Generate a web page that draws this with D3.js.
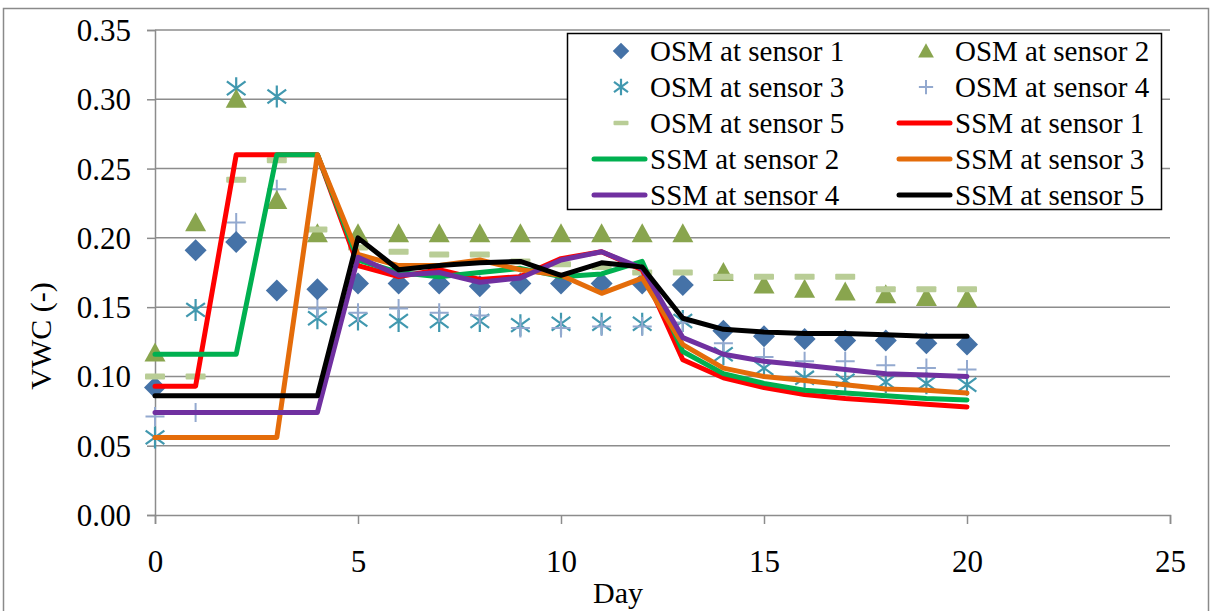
<!DOCTYPE html>
<html>
<head>
<meta charset="utf-8">
<script src="https://cdn.jsdelivr.net/npm/d3@7"></script>
<style>
  html, body { margin: 0; padding: 0; background: #fff; }
  svg { display: block; }
</style>
</head>
<body>
<svg id="chart" width="1214" height="611"></svg>
<script>
// Days of the experiment
const days = [0,1,2,3,4,5,6,7,8,9,10,11,12,13,14,15,16,17,18,19,20];

// Observed soil moisture (OSM), volumetric water content
const osm1 = [0.092,0.191,0.197,0.162,0.163,0.167,0.167,0.167,0.165,0.167,0.167,0.167,0.167,0.166,0.133,0.129,0.127,0.126,0.126,0.124,0.123];
const osm2 = [0.117,0.211,0.300,0.227,0.203,0.203,0.203,0.203,0.203,0.203,0.203,0.203,0.203,0.203,0.175,0.166,0.163,0.161,0.159,0.157,0.156];
const osm3 = [0.056,0.148,0.308,0.302,0.142,0.141,0.140,0.140,0.140,0.137,0.138,0.138,0.138,0.140,0.116,0.106,0.099,0.097,0.096,0.095,0.094];
const osm4 = [0.071,0.074,0.211,0.235,0.149,0.146,0.149,0.146,0.144,0.135,0.135,0.136,0.136,0.139,0.124,0.114,0.111,0.111,0.108,0.106,0.105];
const osm5 = [0.100,0.100,0.242,0.256,0.206,0.193,0.190,0.188,0.188,0.183,0.181,0.179,0.175,0.175,0.172,0.172,0.172,0.172,0.163,0.163,0.163];

// Simulated soil moisture (SSM)
const ssm1 = [0.093,0.093,0.260,0.260,0.260,0.180,0.172,0.177,0.170,0.172,0.185,0.190,0.177,0.112,0.099,0.092,0.087,0.084,0.082,0.080,0.078];
const ssm2 = [0.116,0.116,0.116,0.260,0.260,0.184,0.175,0.172,0.175,0.178,0.172,0.174,0.183,0.118,0.102,0.095,0.090,0.088,0.086,0.084,0.083];
const ssm3 = [0.056,0.056,0.056,0.056,0.260,0.188,0.180,0.180,0.184,0.177,0.173,0.160,0.171,0.123,0.106,0.100,0.097,0.094,0.091,0.090,0.088];
const ssm4 = [0.074,0.074,0.074,0.074,0.074,0.186,0.173,0.175,0.168,0.171,0.184,0.190,0.178,0.128,0.116,0.111,0.108,0.105,0.102,0.101,0.100];
const ssm5 = [0.086,0.086,0.086,0.086,0.086,0.200,0.177,0.180,0.182,0.183,0.173,0.182,0.179,0.142,0.134,0.132,0.131,0.131,0.130,0.129,0.129];

// Axis ticks
const xTicks = [0,5,10,15,20,25];
const yTicks = [0,0.05,0.10,0.15,0.20,0.25,0.30,0.35];

// Legend labels
const osmNames = ["OSM at sensor 1","OSM at sensor 2","OSM at sensor 3","OSM at sensor 4","OSM at sensor 5"];
const ssmNames = ["SSM at sensor 1","SSM at sensor 2","SSM at sensor 3","SSM at sensor 4","SSM at sensor 5"];

const FONT = '"Liberation Serif", "Times New Roman", "DejaVu Serif", serif';

const svg = d3.select("#chart");
const plot = { left: 155, right: 1170, top: 30, bottom: 515 };

const x = d3.scaleLinear().domain([0, 25]).range([plot.left, plot.right]);
const y = d3.scaleLinear().domain([0, 0.35]).range([plot.bottom, plot.top]);

const gridColor = "#8c8c8c";

// Outer chart frame
svg.append("rect")
  .attr("x", 3.5).attr("y", 8.5)
  .attr("width", 1205).attr("height", 615)
  .attr("fill", "none").attr("stroke", "#8a8a8a").attr("stroke-width", 1.5);

// Horizontal gridlines
svg.append("g")
  .selectAll("line")
  .data(yTicks.filter(d => d > 0))
  .join("line")
  .attr("x1", plot.left).attr("x2", plot.right)
  .attr("y1", d => y(d)).attr("y2", d => y(d))
  .attr("stroke", gridColor).attr("stroke-width", 1.5);

// Y axis
const yAxis = svg.append("g")
  .attr("transform", `translate(${plot.left},0)`)
  .call(d3.axisLeft(y).tickValues(yTicks).tickFormat(d3.format(".2f")).tickSize(8).tickPadding(16));
// X axis
const xAxis = svg.append("g")
  .attr("transform", `translate(0,${plot.bottom})`)
  .call(d3.axisBottom(x).tickValues(xTicks).tickFormat(d3.format("d")).tickSize(9).tickPadding(26));

[yAxis, xAxis].forEach(g => {
  g.attr("font-family", null);
  g.select(".domain").attr("stroke", gridColor).attr("stroke-width", 1.5);
  g.selectAll(".tick line").attr("stroke", gridColor).attr("stroke-width", 1.5);
  g.selectAll(".tick text")
    .style("font-family", FONT)
    .style("font-size", "31px").attr("fill", "#000");
});
yAxis.selectAll(".tick text").attr("dy", "0.34em");

// Axis titles
svg.append("text")
  .attr("x", 618).attr("y", 603)
  .attr("text-anchor", "middle")
  .style("font-family", FONT).style("font-size", "30px")
  .text("Day");
svg.append("text")
  .attr("transform", "translate(51,336) rotate(-90)")
  .attr("text-anchor", "middle")
  .style("font-family", FONT).style("font-size", "30px")
  .text("VWC (-)");

// Marker shapes
const markerStyles = [
  { key: "diamond",  color: "#4572a7" },
  { key: "triangle", color: "#89a54e" },
  { key: "star",     color: "#4198af" },
  { key: "plus",     color: "#93a9cf" },
  { key: "dash",     color: "#b9cd96" }
];

function drawMarker(g, kind, color, cx, cy, scale = 1) {
  const s = scale;
  if (kind === "diamond") {
    const r = 11 * s;
    g.append("path")
      .attr("d", `M${cx},${cy - r}L${cx + r},${cy}L${cx},${cy + r}L${cx - r},${cy}Z`)
      .attr("fill", color);
  } else if (kind === "triangle") {
    const w = 10.5 * s, h = 19 * s;
    g.append("path")
      .attr("d", `M${cx},${cy - h * 0.55}L${cx + w},${cy + h * 0.45}L${cx - w},${cy + h * 0.45}Z`)
      .attr("fill", color);
  } else if (kind === "star") {
    const r = 11 * s, d = r * 0.85, e = r * 0.62;
    g.append("path")
      .attr("d", `M${cx},${cy - r}L${cx},${cy + r}M${cx - d},${cy - e}L${cx + d},${cy + e}M${cx - d},${cy + e}L${cx + d},${cy - e}`)
      .attr("stroke", color).attr("stroke-width", 2.2).attr("fill", "none");
  } else if (kind === "plus") {
    const r = 9.5 * s;
    g.append("path")
      .attr("d", `M${cx},${cy - r}L${cx},${cy + r}M${cx - r},${cy}L${cx + r},${cy}`)
      .attr("stroke", color).attr("stroke-width", 2).attr("fill", "none");
  } else if (kind === "dash") {
    const w = 10 * s, h = 3 * s;
    g.append("rect")
      .attr("x", cx - w).attr("y", cy - h)
      .attr("width", 2 * w).attr("height", 2 * h)
      .attr("rx", 1).attr("fill", color);
  }
}

const osmSeries = [osm1, osm2, osm3, osm4, osm5];
const ssmSeries = [ssm1, ssm2, ssm3, ssm4, ssm5];
const lineColors = ["#ff0000", "#00b050", "#e46c0a", "#7030a0", "#000000"];

// Observed points (stacking order: star, plus, diamond, triangle, dash)
const markerLayer = svg.append("g");
[2, 3, 0, 1, 4].forEach(i => {
  const g = markerLayer.append("g");
  osmSeries[i].forEach((v, k) => {
    drawMarker(g, markerStyles[i].key, markerStyles[i].color, x(days[k]), y(v));
  });
});

// Simulated lines
const line = d3.line().x((d, k) => x(days[k])).y(d => y(d));
ssmSeries.forEach((s, i) => {
  svg.append("path")
    .datum(s)
    .attr("d", line)
    .attr("fill", "none")
    .attr("stroke", lineColors[i])
    .attr("stroke-width", 5)
    .attr("stroke-linejoin", "round")
    .attr("stroke-linecap", "round");
});

// Legend
const lg = svg.append("g");
lg.append("rect")
  .attr("x", 567.5).attr("y", 33.5).attr("width", 594).attr("height", 176)
  .attr("fill", "#fff").attr("stroke", "#000").attr("stroke-width", 1.5);

const legendItems = [
  { type: "m", idx: 0, name: osmNames[0] },
  { type: "m", idx: 1, name: osmNames[1] },
  { type: "m", idx: 2, name: osmNames[2] },
  { type: "m", idx: 3, name: osmNames[3] },
  { type: "m", idx: 4, name: osmNames[4] },
  { type: "l", idx: 0, name: ssmNames[0] },
  { type: "l", idx: 1, name: ssmNames[1] },
  { type: "l", idx: 2, name: ssmNames[2] },
  { type: "l", idx: 3, name: ssmNames[3] },
  { type: "l", idx: 4, name: ssmNames[4] }
];
const colX = [592, 897];
const rowY0 = 51, rowStep = 36;
legendItems.forEach((it, n) => {
  const col = n % 2, row = Math.floor(n / 2);
  const cx0 = colX[col], cy = rowY0 + row * rowStep;
  if (it.type === "m") {
    drawMarker(lg, markerStyles[it.idx].key, markerStyles[it.idx].color, cx0 + 29, cy, 0.75);
  } else {
    lg.append("line")
      .attr("x1", cx0 + 2).attr("x2", cx0 + 53)
      .attr("y1", cy).attr("y2", cy)
      .attr("stroke", lineColors[it.idx]).attr("stroke-width", 5)
      .attr("stroke-linecap", "round");
  }
  lg.append("text")
    .attr("x", cx0 + 58).attr("y", cy)
    .attr("dy", "0.33em")
    .style("font-family", FONT).style("font-size", "29px")
    .text(it.name);
});
</script>
</body>
</html>
